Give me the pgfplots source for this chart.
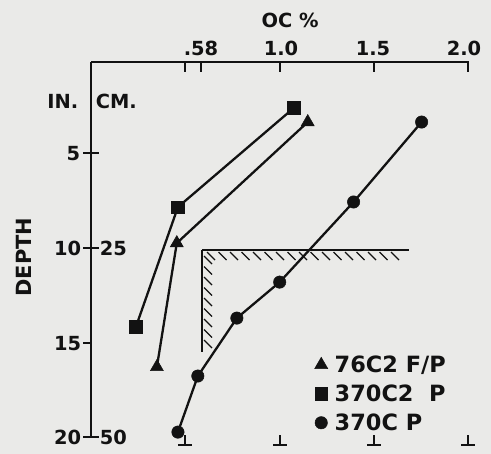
\documentclass[border=0pt]{standalone}
\usepackage{fontspec}
\setmainfont{DejaVu Sans}
\usepackage{pgfplots}
\pgfplotsset{compat=1.18}
\definecolor{bg}{RGB}{234,234,232}
\definecolor{ink}{RGB}{18,18,18}
\newcommand\T[1]{{\bfseries\fontsize{19.5}{23}\selectfont #1}}
\newcommand\LT{\bfseries\fontsize{22.5}{26}\selectfont}

\pgfplotstableread{
oc    depth
1.149 3.37
0.458 9.76
0.353 16.30
}\triA
\pgfplotstableread{
oc    depth
1.075 2.63
0.464 7.86
0.242 14.19
}\sqB
\pgfplotstableread{
oc    depth
1.750 3.37
1.391 7.59
1.001 11.82
0.775 13.72
0.569 16.78
0.464 19.74
}\cirC

\begin{document}
\begin{tikzpicture}
\fill[bg] (0bp,0bp) rectangle (491bp,-454bp);
\useasboundingbox (0bp,0bp) rectangle (491bp,-454bp);
\begin{scope}[x=1bp,y=1bp,line width=1.7bp,draw=ink,text=ink]
% axes
\draw (91,-62) -- (469,-62);
\draw (91,-62) -- (91,-437);
% top ticks
\foreach \x in {185,201,280,374,468} \draw (\x,-62) -- (\x,-72);
% bottom inverted ticks
\foreach \x in {185,280,374,468} {\draw (\x,-435) -- (\x,-445); \draw (\x-7,-445) -- (\x+7,-445);}
% left ticks
\draw (83,-153) -- (99,-153);
\draw (83,-248) -- (99,-248);
\draw (83,-343) -- (91,-343);
\draw (83,-437) -- (99,-437);
% labels
\node[anchor=base,inner sep=0pt] at (290,-27) {\T{OC \%}};
\node[anchor=base,inner sep=0pt] at (201,-55) {\T{.58}};
\node[anchor=base,inner sep=0pt] at (281,-55) {\T{1.0}};
\node[anchor=base,inner sep=0pt] at (373,-55) {\T{1.5}};
\node[anchor=base,inner sep=0pt] at (464,-55) {\T{2.0}};
\node[anchor=base east,inner sep=0pt] at (79,-108) {\T{IN.}};
\node[anchor=base west,inner sep=0pt] at (95,-108) {\T{CM.}};
\node[anchor=base east,inner sep=0pt] at (81,-160) {\T{5}};
\node[anchor=base east,inner sep=0pt] at (82,-255) {\T{10}};
\node[anchor=base east,inner sep=0pt] at (82,-350) {\T{15}};
\node[anchor=base east,inner sep=0pt] at (82,-444) {\T{20}};
\node[anchor=base west,inner sep=0pt] at (99,-255) {\T{25}};
\node[anchor=base west,inner sep=0pt] at (99,-444) {\T{50}};
\node[rotate=90,inner sep=0pt] at (24,-257) {\bfseries\fontsize{21}{25}\selectfont DEPTH};
% hatched corner
\draw (202,-250) -- (409,-250);
\draw (202,-250) -- (202,-352);
\begin{scope}[line width=1.1bp]
\foreach \x in {207,218.5,...,400} \draw (\x,-252) -- (\x+8,-260);
\foreach \y in {256,266.5,...,345} \draw (204,-\y) -- (212,-\y-8);
\end{scope}
\end{scope}
\begin{axis}[
  at={(90bp,-62bp)}, anchor=north west,
  scale only axis, width=379bp, height=382.6bp,
  xmin=0, xmax=2, ymin=0.2, ymax=20.4, y dir=reverse,
  hide axis, clip=false,
  legend style={draw=none, fill=none, at={(axis cs:1.186,15.71)}, anchor=north west,
    inner sep=0pt, outer sep=0pt, row sep=11bp, font=\LT,
    nodes={inner sep=0pt, text height=16.4bp, text depth=0bp, text=ink}},
  legend cell align=left,
  legend image code/.code={\path[draw=none,fill=none] (-6bp,-9bp) rectangle (6bp,9bp); \draw[#1] plot coordinates {(0bp,0bp)};},
  every axis plot/.append style={line width=2.3bp, color=ink, mark options={solid, fill=ink, line width=0.5bp}},
  /tikz/every odd column/.append style={column sep=7bp},
]
\addplot[mark=triangle*, mark size=7.5bp] table[x=oc,y=depth] {\triA};
\addlegendentry{76C2 F/P}
\addplot[mark=square*, mark size=6.3bp] table[x=oc,y=depth] {\sqB};
\addlegendentry{370C2\ \ P}
\addplot[mark=*, mark size=6.2bp] table[x=oc,y=depth] {\cirC};
\addlegendentry{370C P}
\end{axis}
\end{tikzpicture}
\end{document}
